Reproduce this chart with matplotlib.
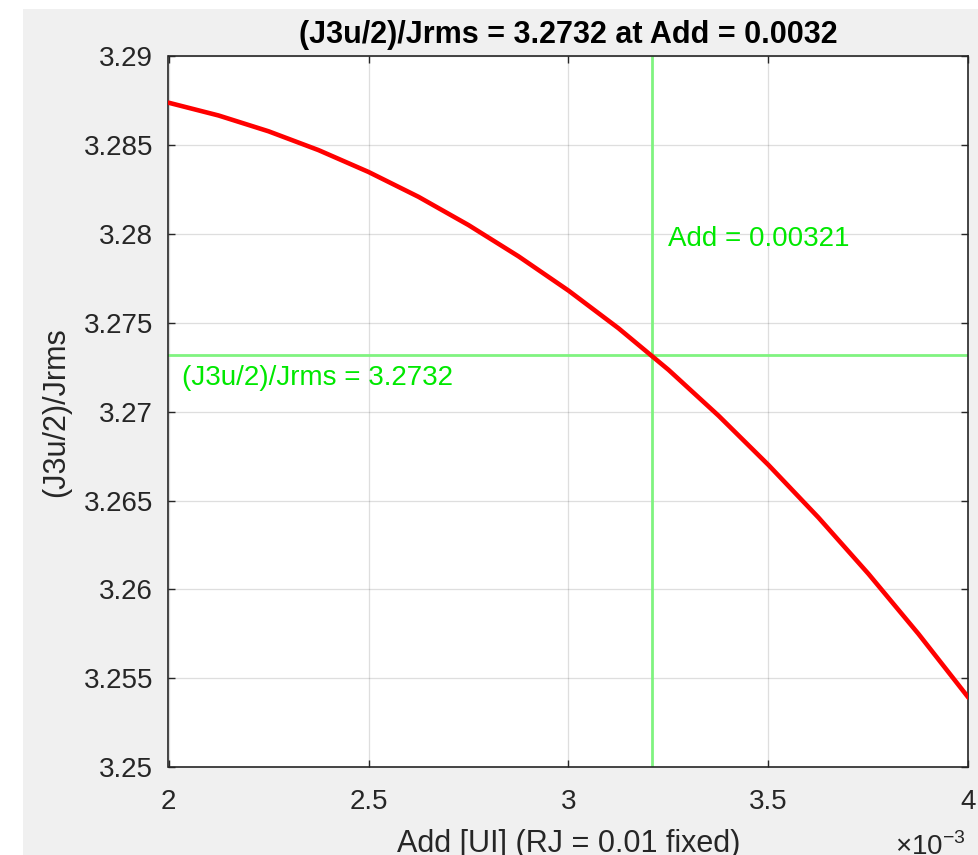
import matplotlib
matplotlib.use("Agg")
import matplotlib.pyplot as plt
from matplotlib.patches import Rectangle
from matplotlib.ticker import FuncFormatter, MultipleLocator

plt.rcParams['font.family'] = ['Liberation Sans', 'DejaVu Sans']
plt.rcParams['mathtext.fontset'] = 'custom'
plt.rcParams['mathtext.rm'] = 'Liberation Sans'

# Add sweep [UI] and the resulting (J3u/2)/Jrms ratio
add_ui = [0.002, 0.002125, 0.00225, 0.002375, 0.0025, 0.002625, 0.00275, 0.002875,
          0.003, 0.003125, 0.00325, 0.003375, 0.0035, 0.003625, 0.00375, 0.003875, 0.004]
ratio = [3.28740, 3.28668, 3.28579, 3.28473, 3.28350, 3.28210, 3.28051, 3.27875,
         3.27682, 3.27470, 3.27236, 3.26978, 3.26700, 3.26404, 3.26087, 3.25749, 3.25390]

# operating point
add_sel = 0.00321
ratio_sel = 3.2732

x_ticks = [0.002, 0.0025, 0.003, 0.0035, 0.004]
y_lim = (3.25, 3.29)

W, H = 979, 855
fig = plt.figure(figsize=(W / 100, H / 100), dpi=100, facecolor='white')
fig.add_artist(Rectangle((23 / W, 0), 1 - 23 / W, (H - 9) / H,
                         transform=fig.transFigure, facecolor='#f0f0f0',
                         edgecolor='none', zorder=-10))

ax = fig.add_axes([168.5 / W, 1 - 767 / H, 800 / W, 710.5 / H])
ax.set_facecolor('white')

ax.plot(add_ui, ratio, color='red', lw=3.3, solid_capstyle='round',
        solid_joinstyle='round', zorder=3)
ax.axhline(ratio_sel, color='#80f380', lw=2.0, zorder=2)
ax.axvline(add_sel, color='#80f380', lw=2.0, zorder=2)

green_txt = '#00e800'
ax.annotate(f'(J3u/2)/Jrms = {ratio_sel:.4f}', xy=(x_ticks[0], ratio_sel),
            xytext=(14, -10), textcoords='offset pixels', ha='left', va='top',
            fontsize=20, color=green_txt)
ax.annotate(f'Add = {add_sel:g}', xy=(add_sel, ratio_sel),
            xytext=(16, 129), textcoords='offset pixels', ha='left', va='top',
            fontsize=20, color=green_txt)

ax.set_xlim(x_ticks[0], x_ticks[-1])
ax.set_ylim(*y_lim)
ax.set_xticks(x_ticks)
ax.xaxis.set_major_formatter(FuncFormatter(lambda v, p: f'{v * 1e3:g}'))
ax.yaxis.set_major_locator(MultipleLocator(0.005))
ax.yaxis.set_major_formatter(FuncFormatter(lambda v, p: f'{round(v, 4):g}'))

dark = '#262626'
for s in ax.spines.values():
    s.set_color(dark)
    s.set_linewidth(1.2)
ax.tick_params(direction='in', length=5, width=1, color=dark, labelcolor=dark,
               labelsize=20, top=True, right=True)
ax.tick_params(axis='x', pad=16)
ax.tick_params(axis='y', pad=11)
ax.grid(True, color=dark, alpha=0.15, lw=0.9)

ax.set_title(f'(J3u/2)/Jrms = {ratio_sel:.4f} at Add = {add_sel:.4f}',
             fontsize=22, fontweight='bold', color='black', pad=10)
ax.set_xlabel('Add [UI] (RJ = 0.01 fixed)', fontsize=22, color=dark)
ax.xaxis.set_label_coords(0.5, -0.087)
ax.set_ylabel('(J3u/2)/Jrms', fontsize=22, color=dark)
ax.yaxis.set_label_coords(-0.122, 0.5)

ax.annotate(r'$\times10^{-3}$', xy=(1, 0), xycoords='axes fraction',
            xytext=(-73, -88), textcoords='offset pixels', ha='left',
            va='baseline', fontsize=20, color=dark)

fig.savefig('out.png', dpi=100, facecolor=fig.get_facecolor())
